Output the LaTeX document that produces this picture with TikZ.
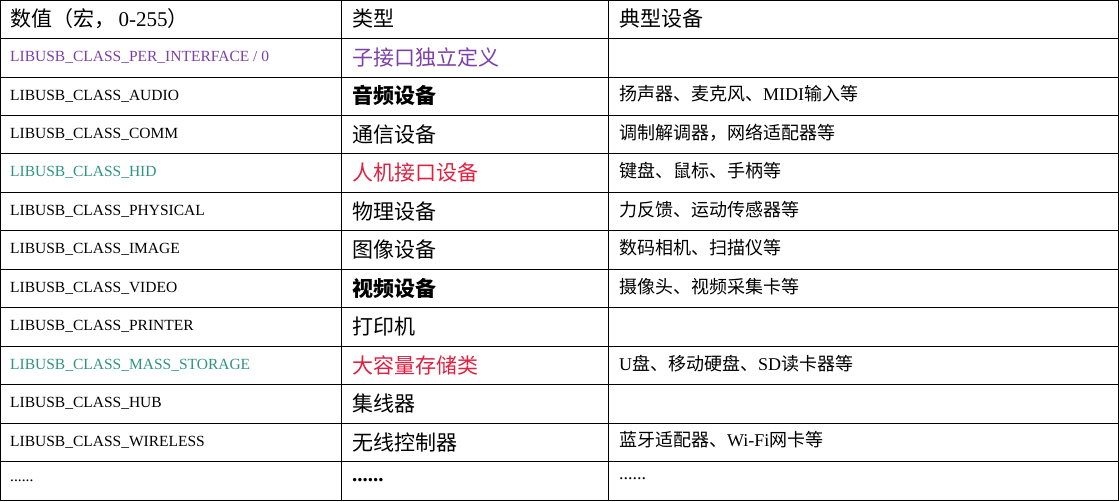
\documentclass[tikz,border=0pt]{standalone}
\usepackage{fontspec}
\setmainfont{Liberation Serif}
\newfontfamily\cjk{Noto Sans CJK SC}
\definecolor{cpurple}{HTML}{7D3FA8}
\definecolor{cteal}{HTML}{2E9484}
\definecolor{cred}{HTML}{E02040}
\begin{document}
\begin{tikzpicture}[x=1pt,y=-1pt,
  grid/.style={draw=black,line width=0.8pt},
  ca/.style={anchor=west,font=\fontsize{15.5}{18}\selectfont,inner sep=0pt},
  bn/.style={anchor=west,inner sep=0pt,font=\fontsize{21}{24}\selectfont\cjk},
  bb/.style={anchor=west,inner sep=0pt,font=\fontsize{21}{24}\selectfont\cjk\bfseries},
  cc/.style={anchor=west,font=\fontsize{18}{21}\selectfont\cjk,inner sep=0pt}]
\useasboundingbox (0,0) rectangle (1119,501);
\draw[grid] (0.5,0.5) rectangle (1118.5,500.5);
\foreach \i in {1,...,12} \draw[grid] (0.5,{\i*38.46}) -- (1118.5,{\i*38.46});
\draw[grid] (341,0.5) -- (341,500.5);
\draw[grid] (608,0.5) -- (608,500.5);
\node[bn] (h1) at (10,19) {数值（宏，\,{\rmfamily 0-255}）};
\node[bn] (h2) at (352,19) {类型};
\node[bn] (h3) at (619,19) {典型设备};
\foreach \n/\a/\col in {
 1/{LIBUSB\_CLASS\_PER\_INTERFACE / 0}/cpurple,
 2/LIBUSB\_CLASS\_AUDIO/black,
 3/LIBUSB\_CLASS\_COMM/black,
 4/LIBUSB\_CLASS\_HID/cteal,
 5/LIBUSB\_CLASS\_PHYSICAL/black,
 6/LIBUSB\_CLASS\_IMAGE/black,
 7/LIBUSB\_CLASS\_VIDEO/black,
 8/LIBUSB\_CLASS\_PRINTER/black,
 9/LIBUSB\_CLASS\_MASS\_STORAGE/cteal,
 10/LIBUSB\_CLASS\_HUB/black,
 11/LIBUSB\_CLASS\_WIRELESS/black,
 12/{......}/black} {
  \node[ca,text=\col] (a\n) at (10,{\n*38.46+19}) {\a};
}
\foreach \n/\b/\col/\wt in {1/子接口独立定义/cpurple/bn,2/音频设备/black/bb,3/通信设备/black/bn,
 4/人机接口设备/cred/bn,5/物理设备/black/bn,6/图像设备/black/bn,7/视频设备/black/bb,8/打印机/black/bn,
 9/大容量存储类/cred/bn,10/集线器/black/bn,11/无线控制器/black/bn,12/{\rmfamily\bfseries......}/black/bb}
 \node[\wt,text=\col] (b\n) at (352,{\n*38.46+19}) {\b};
\foreach \n/\c in {2/扬声器、麦克风、{\rmfamily MIDI}输入等,3/调制解调器，网络适配器等,4/键盘、鼠标、手柄等,
 5/力反馈、运动传感器等,6/数码相机、扫描仪等,7/摄像头、视频采集卡等,9/{\rmfamily U}盘、移动硬盘、{\rmfamily SD}读卡器等,
 11/蓝牙适配器、{\rmfamily Wi-Fi}网卡等,12/{\rmfamily......}}
 \node[cc] (c\n) at (619,{\n*38.46+17}) {\c};
\end{tikzpicture}
\end{document}
